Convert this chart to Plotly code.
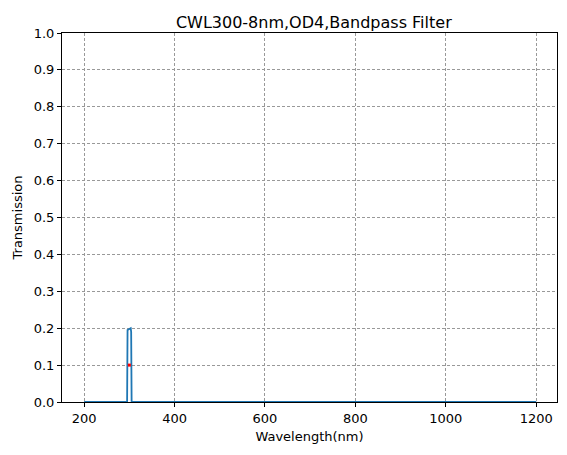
import plotly.graph_objects as go

wavelength = [200, 294, 295, 296, 300, 303, 304, 305, 1200]
transmission = [0, 0, 0.0, 0.195, 0.197, 0.2, 0.19, 0, 0]
cwl_x = [300]
cwl_y = [0.1]

fig = go.Figure()
fig.add_trace(go.Scatter(x=wavelength, y=transmission, mode="lines",
                         line=dict(color="#1f77b4", width=1.8), showlegend=False))
fig.add_trace(go.Scatter(x=cwl_x, y=cwl_y, mode="markers",
                         marker=dict(color="red", size=3, symbol="square"), showlegend=False))

axis_common = dict(showline=True, linecolor="black", mirror=True, ticks="outside",
                   tickcolor="black", ticklen=4, showgrid=True, gridcolor="#999",
                   griddash="3px,2px", gridwidth=0.7, zeroline=False, automargin=False,
                   tickfont=dict(size=13, color="black"))
fig.update_layout(
    width=551, height=439, plot_bgcolor="white", paper_bgcolor="white",
    margin=dict(l=54, r=2, t=25, b=45),
    font=dict(family="DejaVu Sans", color="black"),
    title=dict(text="CWL300-8nm,OD4,Bandpass Filter", x=0.555, xanchor="center",
               y=0.968, yanchor="middle", font=dict(size=16)),
    xaxis=dict(range=[151, 1246], tickvals=[200, 400, 600, 800, 1000, 1200],
               title=dict(text="Wavelength(nm)", font=dict(size=13), standoff=7), **axis_common),
    yaxis=dict(range=[0, 1], dtick=0.1, tickformat=".1f",
               title=dict(text="Transmission", font=dict(size=13), standoff=8), **axis_common),
)
fig.write_html("out.html")
